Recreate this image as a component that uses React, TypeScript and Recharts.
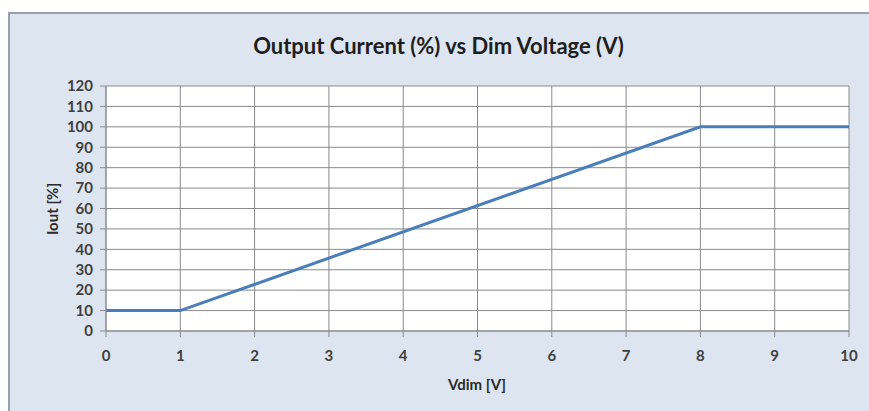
import React from 'react';
import { LineChart, Line, XAxis, YAxis, CartesianGrid } from 'recharts';

const vdim = [0, 1, 8, 10];
const iout = [10, 10, 100, 100];
const xTicks = [0, 1, 2, 3, 4, 5, 6, 7, 8, 9, 10];
const yTicks = [0, 10, 20, 30, 40, 50, 60, 70, 80, 90, 100, 110, 120];

const data = vdim.map((v, i) => ({ v, i: iout[i] }));

const FONT = 'Lato, "Open Sans", sans-serif';
const W = 869;
const H = 411;

export default function App() {
  return (
    <div style={{ position: 'absolute', left: 0, top: 0, width: W, height: H, background: '#fff', overflow: 'hidden', fontFamily: FONT }}>
      <div style={{ position: 'absolute', left: 8, top: 12, width: W - 8, height: H - 12, background: '#dde5f0', borderLeft: '2px solid #9aa0a8', borderTop: '2px solid #9aa0a8', boxSizing: 'border-box' }} />
      <div style={{ position: 'absolute', left: 0, top: 0 }}>
        <LineChart width={W} height={H} data={data} margin={{ top: 86, right: 20, left: 40, bottom: 50 }}>
          <CartesianGrid stroke="#8a8a8a" strokeWidth={1} fill="#ffffff" />
          <XAxis
            dataKey="v"
            type="number"
            domain={[0, 10]}
            ticks={xTicks}
            interval={0}
            height={30}
            tickSize={6}
            tickMargin={13}
            axisLine={{ stroke: '#8a8a8a' }}
            tickLine={{ stroke: '#8a8a8a' }}
            tick={{ fill: '#404040', fontSize: 15, fontFamily: FONT, fontWeight: 700 }}
          />
          <YAxis
            type="number"
            domain={[0, 120]}
            ticks={yTicks}
            interval={0}
            width={66}
            tickSize={6}
            tickMargin={7}
            axisLine={{ stroke: '#8a8a8a' }}
            tickLine={{ stroke: '#8a8a8a' }}
            tick={{ fill: '#404040', fontSize: 15, fontFamily: FONT, fontWeight: 700 }}
          />
          <Line
            dataKey="i"
            type="linear"
            stroke="#4a7ebb"
            strokeWidth={3}
            dot={false}
            activeDot={false}
            isAnimationActive={false}
          />
        </LineChart>
      </div>
      <div style={{ position: 'absolute', left: 0, width: 877, top: 32, textAlign: 'center', fontSize: 22, fontWeight: 700, color: '#1e1e1e', lineHeight: '28px' }}>
        Output Current (%) vs Dim Voltage (V)
      </div>
      <div style={{ position: 'absolute', left: 377, width: 200, top: 374, textAlign: 'center', fontSize: 15, fontWeight: 700, color: '#2a2a2a', lineHeight: '20px' }}>
        Vdim [V]
      </div>
      <div style={{ position: 'absolute', left: 52 - 50, top: 209 - 10, width: 100, textAlign: 'center', fontSize: 15, fontWeight: 700, color: '#2a2a2a', lineHeight: '20px', transform: 'rotate(-90deg)' }}>
        Iout [%]
      </div>
    </div>
  );
}
